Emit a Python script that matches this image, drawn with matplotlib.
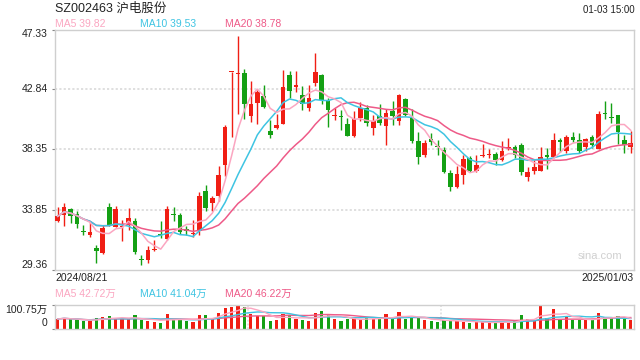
import matplotlib
matplotlib.use('Agg')
import matplotlib.pyplot as plt
import numpy as np
import pandas as pd

plt.rcParams['font.family'] = ['Liberation Sans', 'Noto Sans CJK SC', 'DejaVu Sans']

# ---------------- data ----------------
opens = [33.02, 33.47, 33.89, 33.52, 32.27, 31.97, 30.97, 30.60, 34.02, 32.54,
         32.52, 32.67, 33.02, 30.12, 30.10, 30.85, 32.02, 31.67, 33.47, 33.47,
         32.39, 32.00, 32.22, 35.21, 34.34, 34.89, 37.21, 44.15, 43.97, 44.07,
         40.88, 41.83, 42.38, 39.73, 39.95, 40.28, 43.92, 43.05, 42.40, 41.48,
         43.32, 43.90, 42.00, 40.88, 40.85, 40.25, 39.38, 40.70, 41.45, 39.95,
         40.83, 40.13, 41.20, 40.50, 42.13, 40.70, 38.96, 37.96, 39.13, 38.61,
         38.28, 36.59, 35.54, 36.46, 37.71, 36.76, 37.88, 37.91, 38.01, 37.53,
         38.43, 38.53, 38.71, 36.29, 36.76, 36.76, 37.93, 37.81, 39.08, 38.21,
         39.28, 39.08, 38.51, 39.28, 38.41, 41.08, 40.78, 40.90, 39.03, 38.53]
highs = [34.02, 34.34, 33.97, 33.72, 32.67, 33.02, 31.22, 32.72, 34.34, 34.09,
         33.09, 33.97, 33.22, 30.47, 31.10, 31.59, 32.97, 34.09, 34.02, 33.59,
         32.64, 33.09, 35.14, 35.71, 34.89, 37.08, 40.20, 44.15, 46.82, 44.37,
         43.45, 42.83, 43.15, 40.53, 41.00, 44.32, 44.20, 44.20, 43.08, 43.15,
         45.57, 44.00, 42.20, 41.45, 41.28, 40.70, 41.25, 41.90, 41.65, 40.90,
         41.75, 41.38, 41.95, 42.50, 42.20, 41.38, 39.63, 39.08, 39.56, 39.08,
         38.53, 36.84, 37.14, 37.96, 37.83, 37.96, 38.78, 38.41, 38.13, 38.96,
         39.21, 38.66, 38.83, 37.01, 37.58, 38.53, 38.46, 39.56, 39.21, 39.46,
         39.66, 39.56, 39.21, 39.41, 41.25, 41.95, 41.83, 40.95, 39.41, 39.71]
lows = [32.92, 32.59, 32.84, 32.47, 31.92, 31.77, 29.85, 30.52, 32.59, 32.52,
        31.47, 32.34, 30.55, 29.67, 29.85, 30.77, 31.72, 31.59, 33.02, 32.02,
        31.92, 31.77, 31.92, 33.77, 33.72, 34.51, 36.34, 39.28, 41.00, 40.65,
        40.40, 40.25, 41.45, 39.21, 39.90, 40.28, 42.20, 42.65, 41.30, 41.20,
        43.12, 41.75, 40.05, 40.58, 39.83, 39.33, 39.28, 40.50, 40.13, 39.46,
        40.20, 38.71, 40.20, 40.15, 40.83, 38.83, 37.28, 37.76, 38.66, 37.96,
        36.59, 35.21, 35.46, 35.76, 36.64, 36.64, 37.81, 37.71, 37.21, 37.46,
        38.33, 37.71, 36.46, 36.01, 36.54, 36.71, 36.91, 37.76, 38.16, 38.08,
        38.91, 38.08, 38.26, 38.46, 38.38, 40.65, 40.33, 38.78, 38.08, 38.08]
closes = [33.34, 34.02, 33.39, 32.79, 32.14, 32.17, 30.77, 32.47, 32.72, 33.89,
          32.54, 33.22, 30.67, 30.07, 30.85, 30.92, 31.92, 33.89, 33.42, 32.17,
          32.27, 32.04, 34.89, 33.97, 34.71, 36.44, 40.03, 44.15, 44.02, 41.75,
          41.75, 42.65, 41.53, 39.46, 40.18, 43.02, 42.75, 43.15, 41.75, 42.18,
          44.15, 42.08, 41.33, 40.93, 40.80, 39.38, 40.63, 41.45, 40.33, 40.50,
          40.33, 41.08, 40.83, 42.40, 40.95, 39.01, 37.76, 38.81, 38.91, 38.51,
          36.64, 35.56, 36.51, 37.63, 36.71, 37.21, 37.93, 37.96, 37.53, 38.26,
          38.48, 37.96, 36.64, 36.66, 37.03, 37.78, 37.81, 39.06, 38.88, 39.28,
          39.08, 38.21, 39.13, 38.66, 41.00, 41.03, 40.73, 39.66, 38.66, 38.83]
volumes = [40, 45, 38, 35, 30, 32, 45, 50, 52, 38,
           42, 38, 55, 35, 30, 28, 25, 62, 38, 35,
           30, 28, 55, 58, 38, 65, 88, 92, 95, 90,
           60, 52, 52, 32, 35, 62, 55, 38, 35, 32,
           65, 72, 60, 38, 32, 38, 42, 40, 45, 38,
           42, 60, 42, 70, 38, 50, 42, 36, 32, 28,
           36, 34, 30, 28, 24, 26, 26, 24, 26, 28,
           26, 30, 58, 40, 35, 100, 45, 82, 40, 48,
           34, 36, 34, 34, 65, 48, 42, 52, 38, 34]  # 万

price_ticks = [29.36, 33.85, 38.35, 42.84, 47.33]
vol_top = 100.75
date_labels = ['2024/08/21', '2025/01/03']
title = 'SZ002463 沪电股份'
time_label = '01-03 15:00'
price_ma_labels = ['MA5 39.82', 'MA10 39.53', 'MA20 38.78']
vol_ma_labels = ['MA5 42.72万', 'MA10 41.04万', 'MA20 46.22万']

# ---------------- styling ----------------
RED = '#F01E14'
GREEN = '#14A014'
C_MA5 = '#FBA6C1'
C_MA10 = '#3EC4E2'
C_MA20 = '#EE5A88'
GRID = '#dcdcdc'
BORDER = '#cfcfcf'

W, H = 640, 360
fig = plt.figure(figsize=(W / 100, H / 100), dpi=100)

def fx(px):
    return px / W

def fy(py):
    return 1 - py / H

# axes rectangles in pixels
pl, pr, pt, pb = 54.5, 634, 29.5, 269.5
vt, vb = 304.5, 328.5
ax = fig.add_axes([fx(pl), fy(pb), fx(pr - pl), (pb - pt) / H])
axv = fig.add_axes([fx(pl), fy(vb), fx(pr - pl), (vb - vt) / H])

o = np.array(opens); h = np.array(highs); l = np.array(lows); c = np.array(closes)
v = np.array(volumes)
n = len(c)
x = np.arange(n)
up = c >= o
colors = np.where(up, RED, GREEN)

# price panel
ax.set_xlim(-0.5, n - 0.5)
ax.set_ylim(price_ticks[0], price_ticks[-1])
for t in price_ticks[1:-1]:
    ax.axhline(t, color=GRID, lw=1.3, linestyle=(0, (1.2, 1.2)), zorder=0)
ax.vlines(x, l, h, colors=colors, lw=1.0, zorder=2)
body_b = np.minimum(o, c)
body_h = np.maximum(np.abs(c - o), 0.07)
ax.bar(x, body_h, bottom=body_b, width=0.72, color=colors, lw=0, zorder=3)

cs = pd.Series(c)
for win, col in [(20, C_MA20), (10, C_MA10), (5, C_MA5)]:
    ax.plot(x, cs.rolling(win, min_periods=1).mean(), color=col, lw=1.1, zorder=4)

for sp in ax.spines.values():
    sp.set_color(BORDER)
    sp.set_linewidth(1)
ax.set_xticks([])
ax.set_yticks(price_ticks)
ax.tick_params(axis='y', length=2, color='#888888', labelleft=False)
for i, t in enumerate(price_ticks):
    va = 'bottom' if i == 0 else ('top' if i == len(price_ticks) - 1 else 'center')
    ax.text(-0.012, t, f'{t:.2f}', transform=ax.get_yaxis_transform(),
            ha='right', va=va, fontsize=7.5, color='#222222')
ax.text(0.98, 0.035, 'sina.com', transform=ax.transAxes, ha='right', va='bottom',
        fontsize=8, color='#d0d0d0')

# volume panel
axv.set_xlim(-0.5, n - 0.5)
axv.set_ylim(0, vol_top)
for fr in (1 / 3, 2 / 3):
    axv.axvline(fr * n - 0.5, color=GRID, lw=1.1, linestyle=(0, (1.2, 1.2)), zorder=0)
axv.bar(x, v, width=0.5, color=colors, lw=0, zorder=2)
vs = pd.Series(v)
for win, col in [(20, C_MA20), (10, C_MA10), (5, C_MA5)]:
    axv.plot(x, vs.rolling(win, min_periods=1).mean(), color=col, lw=1.0, zorder=3)
for sp in axv.spines.values():
    sp.set_color(BORDER)
    sp.set_linewidth(1)
axv.set_xticks([])
axv.set_yticks([0, vol_top])
axv.tick_params(axis='y', length=2, color='#888888', labelleft=False)
axv.text(-0.012, vol_top, f'{vol_top:.2f}万', transform=axv.get_yaxis_transform(),
         ha='right', va='top', fontsize=7.5, color='#222222')
axv.text(-0.012, 0, '0', transform=axv.get_yaxis_transform(),
         ha='right', va='bottom', fontsize=7.5, color='#222222')

# header texts
fig.text(fx(55), fy(8), title, ha='left', va='center', fontsize=9, color='#222222')
fig.text(fx(635), fy(10), time_label, ha='right', va='center', fontsize=7, color='#222222')
for xp, lab, col in zip([55, 140, 225], price_ma_labels, [C_MA5, C_MA10, C_MA20]):
    fig.text(fx(xp), fy(24), lab, ha='left', va='center', fontsize=7.5, color=col)
for xp, lab, col in zip([55, 140, 225], vol_ma_labels, [C_MA5, C_MA10, C_MA20]):
    fig.text(fx(xp), fy(294), lab, ha='left', va='center', fontsize=7.5, color=col)
fig.text(fx(55), fy(278), date_labels[0], ha='left', va='center', fontsize=7.5, color='#222222')
fig.text(fx(634), fy(278), date_labels[1], ha='right', va='center', fontsize=7.5, color='#222222')

fig.savefig('out.png', dpi=100)
